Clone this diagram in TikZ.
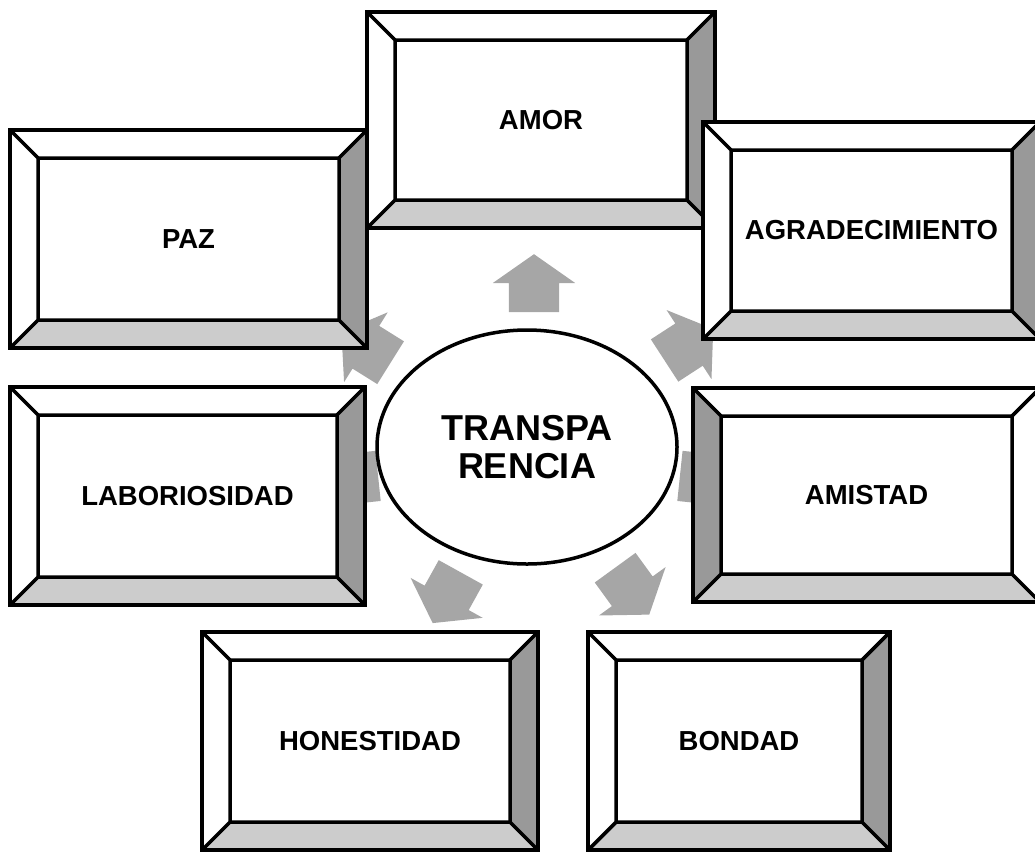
\documentclass[tikz,border=0pt]{standalone}
\usepackage{fontspec}
\setmainfont{Liberation Sans}
\usetikzlibrary{shapes.geometric,shapes.arrows}
\definecolor{bevelDark}{RGB}{153,153,153}
\definecolor{bevelLight}{RGB}{204,204,204}
\definecolor{arrowGray}{RGB}{166,166,166}
\newlength{\bevelw}
\setlength{\bevelw}{28pt}
% faces of a bevelled frame: #1 left face, #2 right face
\newcommand{\bevelfaces}[2]{%
    \coordinate (bSW) at (path picture bounding box.south west);
    \coordinate (bSE) at (path picture bounding box.south east);
    \coordinate (bNW) at (path picture bounding box.north west);
    \coordinate (bNE) at (path picture bounding box.north east);
    \draw[facestroke, fill=white] (bNW) -- (bNE)
        -- ([shift={(-\bevelw,-\bevelw)}]bNE) -- ([shift={(\bevelw,-\bevelw)}]bNW) -- cycle;
    \draw[facestroke, fill=bevelLight] (bSW) -- (bSE)
        -- ([shift={(-\bevelw,\bevelw)}]bSE) -- ([shift={(\bevelw,\bevelw)}]bSW) -- cycle;
    \draw[facestroke, fill=#1] (bNW) -- (bSW)
        -- ([shift={(\bevelw,\bevelw)}]bSW) -- ([shift={(\bevelw,-\bevelw)}]bNW) -- cycle;
    \draw[facestroke, fill=#2] (bNE) -- (bSE)
        -- ([shift={(-\bevelw,\bevelw)}]bSE) -- ([shift={(-\bevelw,-\bevelw)}]bNE) -- cycle;
    \draw[facestroke] (bNW) rectangle (bSE);
}
\tikzset{%
    facestroke/.style = {draw=black, line width=3.5pt, line join=round},
    base/.style = {
        rectangle, draw=black, line width=4pt, fill=white, inner sep=0pt,
        text centered, font=\bfseries\fontsize{27.5}{32}\selectfont
    },
    bevelbox/.style = {base, path picture={\bevelfaces{white}{bevelDark}}},
    bevelflip/.style = {base, path picture={\bevelfaces{bevelDark}{white}}},
    radialArrow/.style = {
        single arrow, fill=arrowGray, draw=none,
        inner xsep=0pt, inner ysep=25pt, minimum height=58pt,
        single arrow head extend=16pt, single arrow tip angle=110
    },
    hub/.style = {
        ellipse, draw=black, line width=3.5pt, fill=white, inner sep=0pt,
        minimum width=300pt, minimum height=234pt, align=center,
        font=\bfseries\fontsize{36}{38}\selectfont
    },
}
\begin{document}
\begin{tikzpicture}[x=1pt, y=-1pt]
    \useasboundingbox (0,0) rectangle (1035,852);
    % Arrows round the centre
    \node (arAmor)    [radialArrow, rotate=90]   at (534,292) {};
    \node (arPaz)     [radialArrow, rotate=148]  at (373.5,352) {};
    \node (arAgrad)   [radialArrow, rotate=33]   at (681.5,349.5) {};
    \node (arAmistad) [radialArrow, rotate=-6]   at (700,478) {};
    \node (arBondad)  [radialArrow, rotate=-54]  at (627,584) {};
    \node (arHonest)  [radialArrow, rotate=-119] at (451,590) {};
    \node (arLabor)   [radialArrow, rotate=186]  at (358,478) {};

    \node (trans) [hub] at (527,447) {TRANSPA\\RENCIA};

    % Nodes position
    \node (paz)     [bevelbox, minimum width=357pt, minimum height=218pt]
                    at (188.5,239) {PAZ};
    \node (amor)    [bevelbox, minimum width=348pt, minimum height=216pt]
                    at (541,120) {AMOR};
    \node (agrad)   [bevelbox, minimum width=337pt, minimum height=217pt]
                    at (871.5,230.5) {AGRADECIMIENTO};
    \node (labor)   [bevelbox, minimum width=355pt, minimum height=218pt]
                    at (187.5,496) {LABORIOSIDAD};
    \node (amistad) [bevelflip, minimum width=347pt, minimum height=214pt]
                    at (866.5,495) {AMISTAD};
    \node (honest)  [bevelbox, minimum width=336pt, minimum height=218pt]
                    at (370,741) {HONESTIDAD};
    \node (bondad)  [bevelbox, minimum width=302pt, minimum height=218pt]
                    at (739,741) {BONDAD};
\end{tikzpicture}
\end{document}
